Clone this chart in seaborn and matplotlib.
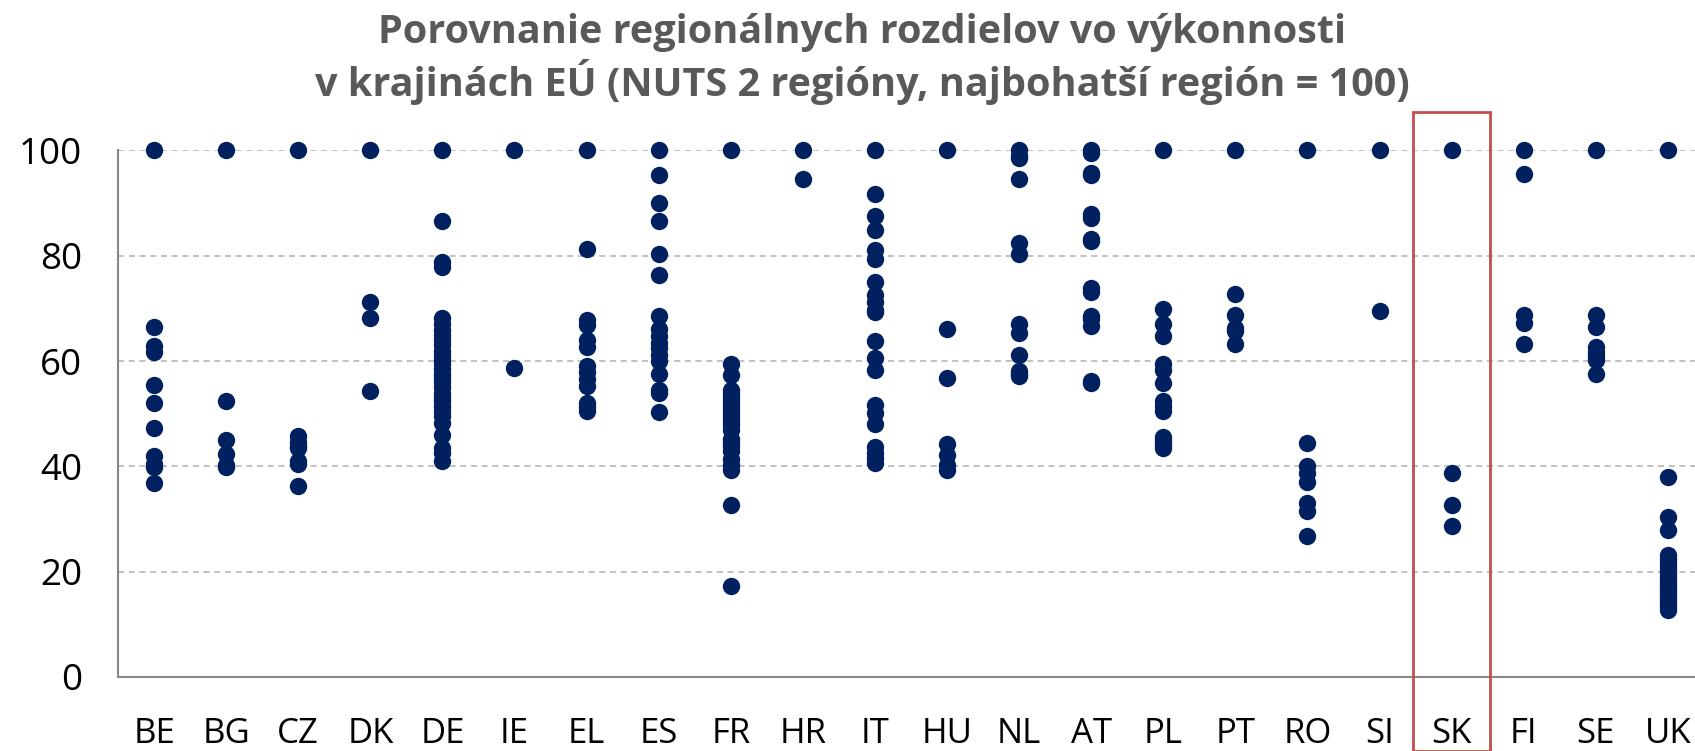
import matplotlib
matplotlib.use("Agg")
import matplotlib.pyplot as plt
import seaborn as sns
import pandas as pd
from matplotlib.patches import Rectangle
from matplotlib.ticker import FixedLocator

countries = ["BE", "BG", "CZ", "DK", "DE", "IE", "EL", "ES", "FR", "HR", "IT",
             "HU", "NL", "AT", "PL", "PT", "RO", "SI", "SK", "FI", "SE", "UK"]

BE = [100, 66.4, 62.8, 61.8, 55.5, 52.1, 47.3, 41.9, 40.5, 39.9, 36.8]
BG = [100, 52.4, 45.1, 42.3, 40.2, 39.8]
CZ = [100, 45.8, 44.6, 43.9, 43.5, 41.0, 40.5, 36.2]
DK = [100, 71.3, 68.2, 54.4]
DE = [100, 86.7, 78.8, 77.9, 68.2, 67.0, 66.0, 65.0, 64.0, 63.0, 62.0, 61.0,
      60.2, 59.5, 58.5, 57.5, 56.8, 56.0, 55.0, 54.0, 53.2, 52.5, 51.5, 50.5,
      49.5, 48.3, 45.9, 43.5, 42.5, 41.0]
IE = [100, 58.7]
EL = [100, 81.2, 67.9, 66.8, 64.1, 62.7, 59.0, 58.0, 56.6, 55.2, 52.0, 51.2, 50.6]
ES = [100, 95.3, 90.1, 86.6, 80.3, 76.4, 68.5, 66.1, 64.8, 63.5, 62.5, 61.2,
      60.0, 57.6, 54.6, 54.0, 50.4]
FR = [100, 59.5, 57.3, 54.5, 53.8, 53.0, 52.3, 51.5, 50.8, 50.0, 49.2, 48.5,
      47.8, 47.0, 45.2, 44.5, 43.8, 43.0, 41.5, 40.2, 39.3, 32.7, 17.2]
HR = [100, 94.5]
IT = [100, 91.8, 87.5, 84.9, 81.1, 79.3, 75.1, 72.5, 71.3, 69.8, 69.4, 63.8,
      60.5, 58.4, 51.7, 50.2, 48.0, 43.6, 42.6, 41.6, 40.6]
HU = [100, 66.1, 56.8, 44.2, 42.2, 40.2, 39.4]
NL = [100, 99.0, 98.5, 94.6, 82.4, 80.3, 67.1, 65.4, 61.1, 58.2, 57.5, 57.2]
AT = [100, 99.6, 95.8, 95.4, 88.0, 87.2, 83.2, 82.8, 73.8, 73.2, 68.6, 68.0,
      66.7, 56.2, 55.8]
PL = [100, 69.9, 67.1, 64.8, 59.5, 58.4, 55.8, 52.4, 51.5, 50.6, 45.6, 44.8,
      44.0, 43.5]
PT = [100, 72.7, 68.8, 66.3, 65.8, 63.2]
RO = [100, 44.4, 40.1, 38.8, 37.0, 33.1, 31.5, 26.7]
SI = [100, 69.6]
SK = [100, 38.7, 32.6, 28.6]
FI = [100, 95.6, 68.8, 67.3, 63.2]
SE = [100, 68.8, 66.4, 62.6, 61.8, 61.0, 60.3, 57.6]
UK = [100, 38.0, 30.4, 27.9, 23.2, 22.4, 21.6, 20.8, 20.2, 19.6, 19.0, 18.4,
      17.8, 17.3, 16.8, 16.3, 15.8, 15.2, 14.6, 14.0, 13.4, 12.8]

series = [BE, BG, CZ, DK, DE, IE, EL, ES, FR, HR, IT, HU, NL, AT, PL, PT, RO,
          SI, SK, FI, SE, UK]
yticks = [0, 20, 40, 60, 80, 100]
title = "Porovnanie regionálnych rozdielov vo výkonnosti\nv krajinách EÚ (NUTS 2 regióny, najbohatší región = 100)"
highlight = "SK"

rows = [(c, v) for c, vals in zip(countries, series) for v in vals]
df = pd.DataFrame(rows, columns=["country", "value"])

sns.set_style("white")
plt.rcParams["font.family"] = ["Open Sans", "DejaVu Sans"]

W, H = 1695, 751
fig = plt.figure(figsize=(W / 100, H / 100), dpi=100)
left, right, top, bottom = 118, 1704, 150.5, 677
ax = fig.add_axes([left / W, 1 - bottom / H, (right - left) / W, (bottom - top) / H])

sns.stripplot(data=df, x="country", y="value", order=countries, jitter=False,
              color="#002060", size=12.5, linewidth=0, ax=ax, clip_on=False, zorder=3)

ax.set_xlim(-0.5, len(countries) - 0.5)
ax.set_ylim(0, 100)
ax.set_yticks(yticks)
ax.set_xlabel("")
ax.set_ylabel("")
ax.yaxis.grid(True, color="#b0b0b0", linestyle=(0, (4, 3)), linewidth=1.1)
ax.set_axisbelow(True)

for s in ["top", "right"]:
    ax.spines[s].set_visible(False)
for s in ["left", "bottom"]:
    ax.spines[s].set_color("#888888")
    ax.spines[s].set_linewidth(1.5)

ax.xaxis.set_minor_locator(FixedLocator([i - 0.5 for i in range(len(countries) + 1)]))
ax.tick_params(axis="x", which="major", length=0, pad=29, labelsize=25, labelcolor="black")
ax.tick_params(axis="x", which="minor", length=11, width=1.5, color="#888888", direction="out")
ax.tick_params(axis="y", which="major", length=11, width=1.5, color="#888888",
               direction="out", pad=15, labelsize=26.5, labelcolor="black")

i = countries.index(highlight)
rect = Rectangle((i - 0.53, -14), 1.06, 121.3, fill=False, edgecolor="#C0504D",
                 linewidth=2, clip_on=False, zorder=4)
ax.add_patch(rect)

fig.text(862 / W, 1 - 59 / H, title, ha="center", va="center", fontsize=28.5,
         fontweight="bold", color="#595959", linespacing=1.2,
         family=["Open Sans", "DejaVu Sans"])

fig.savefig("out.png", dpi=100)
